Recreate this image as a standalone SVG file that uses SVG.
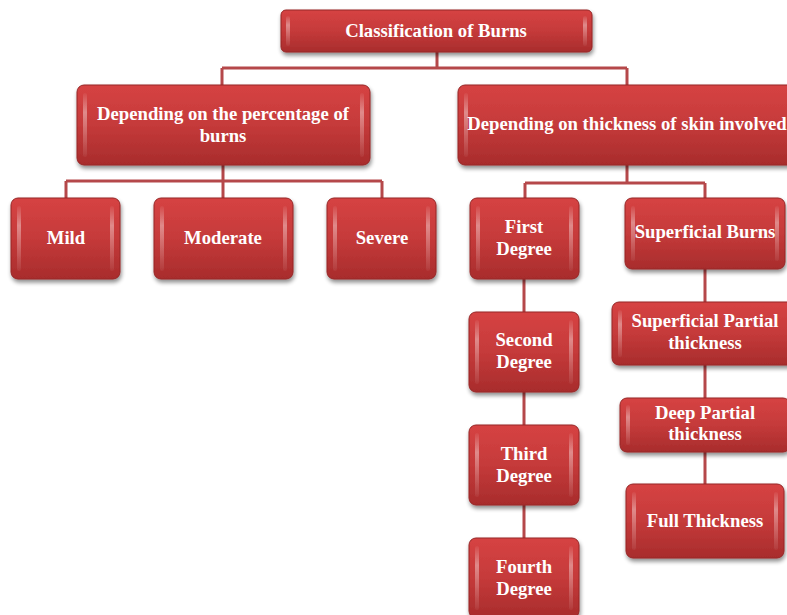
<svg xmlns="http://www.w3.org/2000/svg" width="787" height="615" viewBox="0 0 787 615">
<defs>
<linearGradient id="g" x1="0" y1="0" x2="0" y2="1">
<stop offset="0" stop-color="#d64343"/>
<stop offset="0.5" stop-color="#c53a3a"/>
<stop offset="1" stop-color="#a82c2c"/>
</linearGradient>
<linearGradient id="hl" x1="0" y1="0" x2="0" y2="1">
<stop offset="0" stop-color="#ffffff" stop-opacity="0.05"/>
<stop offset="0.3" stop-color="#ffffff" stop-opacity="0.4"/>
<stop offset="1" stop-color="#ffffff" stop-opacity="0.05"/>
</linearGradient>
<filter id="sh" x="-10%" y="-10%" width="125%" height="135%">
<feGaussianBlur in="SourceAlpha" stdDeviation="2"/>
<feOffset dx="1" dy="3" result="b"/>
<feComponentTransfer><feFuncA type="linear" slope="0.45"/></feComponentTransfer>
<feMerge><feMergeNode/><feMergeNode in="SourceGraphic"/></feMerge>
</filter>
</defs>
<style>
.box{fill:url(#g);stroke:#962626;stroke-width:1;filter:url(#sh)}
.hl{fill:url(#hl)}
.t{font-family:"Liberation Serif","Times New Roman",serif;font-weight:bold;font-size:18.7px;fill:#ffffff;text-anchor:middle}
.c{fill:none;stroke:#b5484a;stroke-width:3}
</style>
<g id="connectors">
<path class="c" d="M437 52V68M222 68H627M222 68V85M627 68V85"/>
<path class="c" d="M223 165V181M66 181H382M66 181V198M223 181V198M382 181V198"/>
<path class="c" d="M627 165V183M525 183H705M525 183V198M705 183V198"/>
<path class="c" d="M524 279V312M524 392V425M524 505V538"/>
<path class="c" d="M705 269V302M705 365V398M705 452V484"/>
</g>
<g id="root">
<rect class="box" x="281" y="10" width="311" height="42" rx="5"/>
<rect class="hl" x="286" y="16" width="4" height="30" rx="2"/><rect class="hl" x="583" y="16" width="4" height="30" rx="2"/>
<text class="t" x="436" y="37">Classification of Burns</text>
</g>
<g id="percentage">
<rect class="box" x="77" y="85" width="293" height="80" rx="7"/>
<rect class="hl" x="83" y="93" width="4" height="64" rx="2"/><rect class="hl" x="360" y="93" width="4" height="64" rx="2"/>
<text class="t" x="223" y="120">Depending on the percentage of</text>
<text class="t" x="223" y="142">burns</text>
</g>
<g id="thickness">
<rect class="box" x="458" y="85" width="340" height="80" rx="7"/>
<rect class="hl" x="464" y="93" width="4" height="64" rx="2"/>
<text class="t" x="627" y="130">Depending on thickness of skin involved</text>
</g>
<g id="mild">
<rect class="box" x="11" y="198" width="109" height="81" rx="7"/>
<rect class="hl" x="17" y="206" width="4" height="65" rx="2"/><rect class="hl" x="110" y="206" width="4" height="65" rx="2"/>
<text class="t" x="66" y="244">Mild</text>
</g>
<g id="moderate">
<rect class="box" x="154" y="198" width="139" height="81" rx="7"/>
<rect class="hl" x="160" y="206" width="4" height="65" rx="2"/><rect class="hl" x="283" y="206" width="4" height="65" rx="2"/>
<text class="t" x="223" y="244">Moderate</text>
</g>
<g id="severe">
<rect class="box" x="327" y="198" width="109" height="81" rx="7"/>
<rect class="hl" x="333" y="206" width="4" height="65" rx="2"/><rect class="hl" x="426" y="206" width="4" height="65" rx="2"/>
<text class="t" x="382" y="244">Severe</text>
</g>
<g id="first">
<rect class="box" x="470" y="198" width="109" height="81" rx="7"/>
<rect class="hl" x="476" y="206" width="4" height="65" rx="2"/><rect class="hl" x="569" y="206" width="4" height="65" rx="2"/>
<text class="t" x="524" y="233">First</text>
<text class="t" x="524" y="255">Degree</text>
</g>
<g id="second">
<rect class="box" x="469" y="312" width="110" height="80" rx="7"/>
<rect class="hl" x="475" y="320" width="4" height="64" rx="2"/><rect class="hl" x="569" y="320" width="4" height="64" rx="2"/>
<text class="t" x="524" y="346">Second</text>
<text class="t" x="524" y="368">Degree</text>
</g>
<g id="third">
<rect class="box" x="469" y="425" width="110" height="80" rx="7"/>
<rect class="hl" x="475" y="433" width="4" height="64" rx="2"/><rect class="hl" x="569" y="433" width="4" height="64" rx="2"/>
<text class="t" x="524" y="460">Third</text>
<text class="t" x="524" y="482">Degree</text>
</g>
<g id="fourth">
<rect class="box" x="469" y="538" width="110" height="80" rx="7"/>
<rect class="hl" x="475" y="546" width="4" height="64" rx="2"/><rect class="hl" x="569" y="546" width="4" height="64" rx="2"/>
<text class="t" x="524" y="573">Fourth</text>
<text class="t" x="524" y="595">Degree</text>
</g>
<g id="superficial">
<rect class="box" x="625" y="198" width="160" height="71" rx="7"/>
<rect class="hl" x="631" y="206" width="4" height="55" rx="2"/><rect class="hl" x="775" y="206" width="4" height="55" rx="2"/>
<text class="t" x="705" y="238">Superficial Burns</text>
</g>
<g id="superficial-partial">
<rect class="box" x="612" y="302" width="186" height="63" rx="7"/>
<rect class="hl" x="618" y="310" width="4" height="47" rx="2"/>
<text class="t" x="705" y="327">Superficial Partial</text>
<text class="t" x="705" y="349">thickness</text>
</g>
<g id="deep-partial">
<rect class="box" x="620" y="398" width="170" height="54" rx="7"/>
<rect class="hl" x="626" y="405" width="4" height="40" rx="2"/>
<text class="t" x="705" y="419">Deep Partial</text>
<text class="t" x="705" y="440">thickness</text>
</g>
<g id="full">
<rect class="box" x="626" y="484" width="158" height="74" rx="7"/>
<rect class="hl" x="632" y="492" width="4" height="58" rx="2"/><rect class="hl" x="774" y="492" width="4" height="58" rx="2"/>
<text class="t" x="705" y="527">Full Thickness</text>
</g>
</svg>
